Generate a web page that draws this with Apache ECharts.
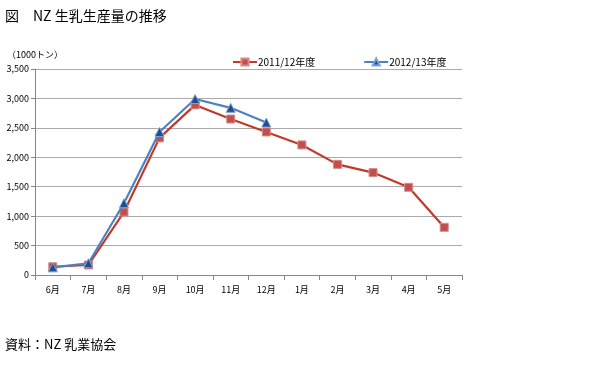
<!DOCTYPE html>
<html><head><meta charset="utf-8">
<script src="https://cdn.jsdelivr.net/npm/echarts@6/dist/echarts.min.js"></script>
<style>html,body{margin:0;padding:0;background:#fff}#c{width:600px;height:381px}</style>
</head><body><div id="c"></div>
<script>
var categories = ['6月','7月','8月','9月','10月','11月','12月','1月','2月','3月','4月','5月'];
var series2011 = [140, 170, 1070, 2330, 2890, 2650, 2430, 2210, 1880, 1740, 1490, 810];
var series2012 = [130, 200, 1220, 2430, 2990, 2840, 2590];
var seriesNames = ['2011/12年度', '2012/13年度'];
var yTicks = [0, 500, 1000, 1500, 2000, 2500, 3000, 3500];

var font = '"Noto Sans CJK JP", "Noto Sans", sans-serif';
var chart = echarts.init(document.getElementById('c'), null, {renderer: 'canvas'});
chart.setOption({
  animation: false,
  backgroundColor: '#fff',
  textStyle: {fontFamily: font},
  title: [
    {text: '図　NZ 生乳生産量の推移', left: 0, top: 4, textStyle: {fontSize: 14, fontWeight: 'normal', color: '#000', fontFamily: font}},
    {text: '（1000トン）', left: 2, top: 45, textStyle: {fontSize: 9, fontWeight: 'normal', color: '#000', fontFamily: font}},
    {text: '資料：NZ 乳業協会', left: 0, top: 333, textStyle: {fontSize: 13, fontWeight: 'normal', color: '#000', fontFamily: font}}
  ],
  legend: {
    top: 52, left: 227, itemGap: 48, itemWidth: 24, itemHeight: 9,
    textStyle: {fontSize: 10, color: '#000', fontFamily: font, padding: [0, 0, 0, -4]},
    data: [seriesNames[0], seriesNames[1]]
  },
  grid: {left: 35, right: 138, top: 69, bottom: 106, containLabel: false},
  xAxis: {
    type: 'category', data: categories, boundaryGap: true,
    axisLine: {lineStyle: {color: '#888'}},
    axisTick: {show: true, alignWithLabel: false, length: 5, lineStyle: {color: '#888'}},
    axisLabel: {fontSize: 9, color: '#000', margin: 10}
  },
  yAxis: {
    type: 'value', min: yTicks[0], max: yTicks[yTicks.length - 1], interval: 500,
    axisLine: {show: true, lineStyle: {color: '#888'}},
    axisTick: {show: true, length: 4, lineStyle: {color: '#888'}},
    splitLine: {lineStyle: {color: '#aaa', width: 1}},
    axisLabel: {fontSize: 9, color: '#000', margin: 6, formatter: function (v) { return v.toLocaleString('en-US'); }}
  },
  series: [
    {name: seriesNames[0], type: 'line', data: series2011, symbol: 'rect', symbolSize: 8,
     lineStyle: {color: '#c0392b', width: 2.2}, itemStyle: {color: '#c0504d', borderColor: '#d98a88', borderWidth: 1}, color: '#c0504d', z: 2},
    {name: seriesNames[1], type: 'line', data: series2012, symbol: 'triangle', symbolSize: 9,
     lineStyle: {color: '#4f81bd', width: 2.2}, itemStyle: {color: '#1f4e8c', borderColor: '#7ba3d6', borderWidth: 1}, color: '#4f81bd', z: 3}
  ]
});
</script></body></html>
